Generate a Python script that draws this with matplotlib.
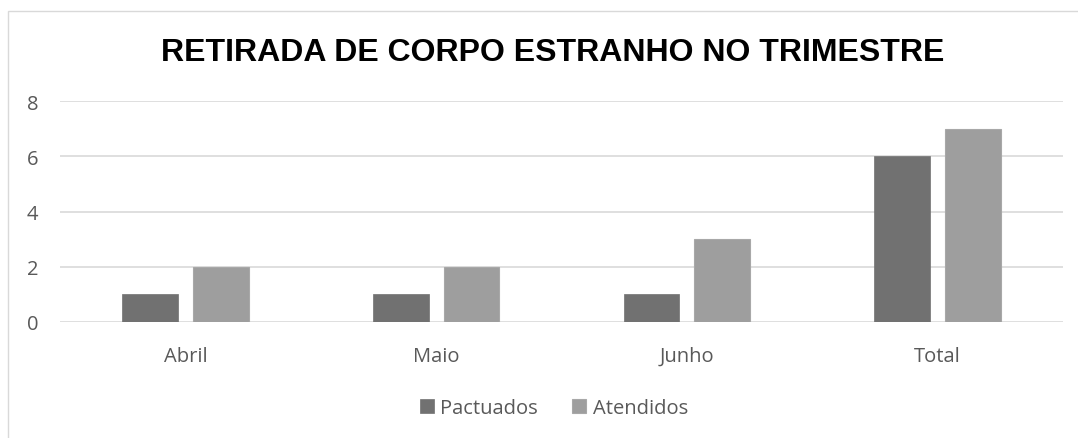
import matplotlib.pyplot as plt
import matplotlib.patches as mpatches
import numpy as np

categorias = ["Abril", "Maio", "Junho", "Total"]
pactuados = [1, 1, 1, 6]
atendidos = [2, 2, 3, 7]
titulo = "RETIRADA DE CORPO ESTRANHO NO TRIMESTRE"

cor_pact = "#717171"
cor_aten = "#9e9e9e"
cor_texto = "#595959"
fonte = ["Open Sans", "DejaVu Sans"]

fig = plt.figure(figsize=(10.78, 4.39), dpi=100)
ax = fig.add_axes([60 / 1078, 1 - 323 / 439, (1063 - 60) / 1078, (323 - 102) / 439])

# moldura do grafico
fig.patches.append(mpatches.Rectangle((8 / 1078, -0.01), 1.02, 1 - 12 / 439 + 0.01,
                                      transform=fig.transFigure, fill=False,
                                      edgecolor="#d9d9d9", linewidth=1))

x = np.arange(len(categorias))
largura = 0.223
ax.bar(x - 0.141, pactuados, largura, color=cor_pact, edgecolor=cor_pact, linewidth=0.5,
       label="Pactuados", zorder=3)
ax.bar(x + 0.141, atendidos, largura, color=cor_aten, edgecolor="#a8a8a8", linewidth=0.8,
       label="Atendidos", zorder=3)

ax.set_xlim(-0.5, len(categorias) - 0.5)
ax.set_ylim(0, 8)
ax.set_yticks([0, 2, 4, 6, 8])
ax.set_xticks(x)
ax.set_xticklabels(categorias)
ax.grid(axis="y", color="#d9d9d9", linewidth=1.2, zorder=0)
for s in ax.spines.values():
    s.set_visible(False)
ax.tick_params(length=0, labelsize=14.5, colors=cor_texto)
ax.tick_params(axis="x", pad=28)
ax.tick_params(axis="y", pad=24)
for lbl in ax.get_xticklabels():
    lbl.set_family(fonte)
    lbl.set_verticalalignment("baseline")
for lbl in ax.get_yticklabels():
    lbl.set_family(fonte)
    lbl.set_horizontalalignment("left")

fig.text(553 / 1078, 1 - 53 / 439, titulo, ha="center", va="center",
         fontsize=23, fontweight="bold", family="Liberation Sans", color="black")

fig.legend(loc="center", bbox_to_anchor=(554 / 1078, 1 - 409 / 439), ncol=2, frameon=False,
           prop={"family": fonte, "size": 14.5}, labelcolor=cor_texto, handlelength=0.7,
           handleheight=0.7, handletextpad=0.3, columnspacing=1.7)

plt.savefig("out.png", dpi=100)
